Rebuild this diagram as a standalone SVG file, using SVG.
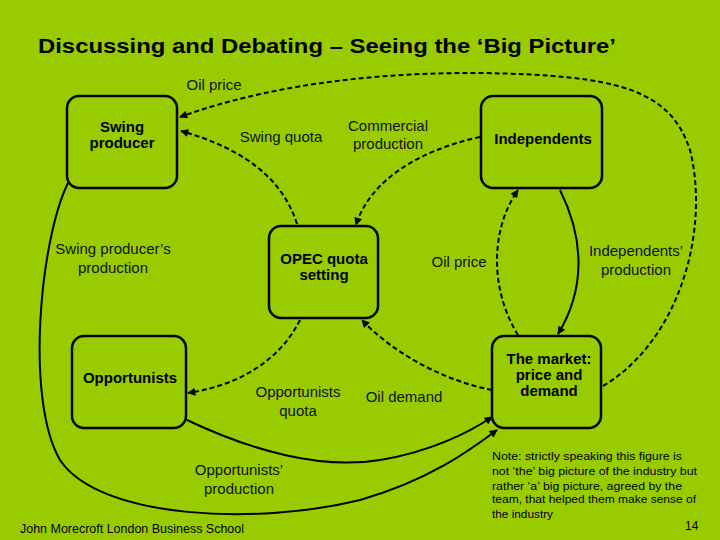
<svg xmlns="http://www.w3.org/2000/svg" width="720" height="540" viewBox="0 0 720 540">
<defs>
<marker id="ar" viewBox="0 0 10 10" refX="9" refY="5" markerWidth="9" markerHeight="8" orient="auto" markerUnits="userSpaceOnUse"><path d="M0,0 L10,5 L0,10 z" fill="#000"/></marker>
<style>
.n{fill:none;stroke:#000;stroke-width:2.5}
.c{fill:none;stroke:#000;stroke-width:2;marker-end:url(#ar)}
.d{stroke-dasharray:5,3}
text{font-family:"Liberation Sans",Arial,sans-serif}
.b{font-weight:bold;font-size:15px;text-anchor:middle}
.l{font-size:15px;text-anchor:middle;fill:#111}
.s{font-size:11.5px}
</style>
</defs>
<rect width="720" height="540" fill="#99cc00"/>
<text x="38" y="53" font-size="20" font-weight="bold" textLength="578" lengthAdjust="spacingAndGlyphs">Discussing and Debating – Seeing the ‘Big Picture’</text>
<g id="connectors">
<path class="c d" d="M603,386 C680,340 710,230 690,150 C670,90 620,75 480,73 C340,72 240,95 180,117"/>
<path class="c d" d="M297,224 C280,170 230,145 181,131"/>
<path class="c d" d="M480,137 C420,150 370,180 356,225"/>
<path class="c d" d="M518,335 C490,290 490,230 518,190"/>
<path class="c" d="M560,190 C585,240 585,290 558,334"/>
<path class="c" d="M68,183 C40,240 25,400 60,460 C100,520 260,525 360,500 C430,480 470,450 497,430"/>
<path class="c" d="M187,420 C250,450 320,470 380,460 C430,452 470,432 492,417"/>
<path class="c d" d="M300,320 C280,360 240,385 188,393"/>
<path class="c d" d="M492,390 C440,380 390,350 362,320"/>
</g>
<g id="swing"><rect class="n" x="67" y="96" width="110" height="92" rx="12"/><text class="b" x="122" y="132">Swing</text><text class="b" x="122" y="148">producer</text></g>
<g id="independents"><rect class="n" x="481" y="96" width="121" height="92" rx="12"/><text class="b" x="543" y="144">Independents</text></g>
<g id="opec"><rect class="n" x="269" y="226" width="109" height="92" rx="12"/><text class="b" x="324" y="264">OPEC quota</text><text class="b" x="324" y="280">setting</text></g>
<g id="opportunists"><rect class="n" x="72" y="336" width="114" height="92" rx="12"/><text class="b" x="130" y="383">Opportunists</text></g>
<g id="market"><rect class="n" x="492" y="336" width="109" height="92" rx="12"/><text class="b" x="549" y="364">The market:</text><text class="b" x="549" y="380">price and</text><text class="b" x="549" y="396">demand</text></g>
<g id="labels">
<text class="l" x="214" y="90">Oil price</text>
<text class="l" x="281" y="142">Swing quota</text>
<text class="l" x="388" y="131">Commercial</text><text class="l" x="388" y="149">production</text>
<text class="l" x="113" y="254">Swing producer’s</text><text class="l" x="113" y="273">production</text>
<text class="l" x="459" y="267">Oil price</text>
<text class="l" x="636" y="256">Independents’</text><text class="l" x="636" y="275">production</text>
<text class="l" x="298" y="397">Opportunists</text><text class="l" x="298" y="416">quota</text>
<text class="l" x="404" y="402">Oil demand</text>
<text class="l" x="239" y="475">Opportunists’</text><text class="l" x="239" y="494">production</text>
</g>
<g id="note" class="s">
<text x="492" y="460" textLength="190" lengthAdjust="spacingAndGlyphs">Note:  strictly speaking this figure is</text>
<text x="492" y="475" textLength="205" lengthAdjust="spacingAndGlyphs">not ‘the’ big picture of the industry but</text>
<text x="492" y="490" textLength="190" lengthAdjust="spacingAndGlyphs">rather  ‘a’ big picture, agreed by the</text>
<text x="492" y="503" textLength="204" lengthAdjust="spacingAndGlyphs">team, that helped them make sense of</text>
<text x="492" y="518" textLength="61" lengthAdjust="spacingAndGlyphs">the industry</text>
</g>
<text x="20" y="533" font-size="12" textLength="224" lengthAdjust="spacingAndGlyphs">John Morecroft   London Business School</text>
<text x="685" y="530" font-size="12">14</text>
</svg>
